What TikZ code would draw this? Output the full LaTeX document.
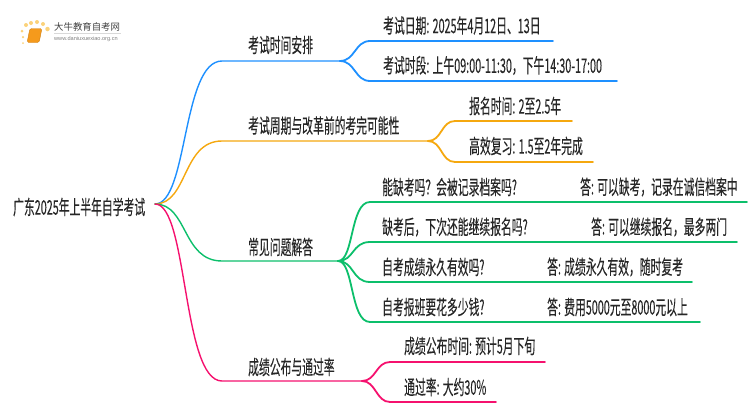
\documentclass[tikz,border=0pt]{standalone}
\usepackage{fontspec}
\setmainfont{Liberation Sans}
\newfontfamily\cjk[FakeStretch=0.54,FakeBold=0.15]{Noto Sans CJK SC}
\newfontfamily\cjklogo{Noto Sans CJK SC}
\definecolor{mapblue}{HTML}{1E90FF}
\definecolor{maporange}{HTML}{F5A80F}
\definecolor{mapgreen}{HTML}{0CBF6B}
\definecolor{mappink}{HTML}{F5116E}
\definecolor{mapbook}{HTML}{F59A1C}
\definecolor{mapdot}{HTML}{FBD27A}
\tikzstyle{topic} = [anchor=west, inner sep=0pt, text=black!85, font=\cjk\fontsize{20}{20}\selectfont]
\tikzstyle{leaf} = [topic]
\tikzstyle{branch} = [line width=1.8pt, line cap=round]
\tikzstyle{spark} = [circle, inner sep=0pt, fill=mapdot]
\begin{document}
\begin{tikzpicture}[x=1pt, y=-1pt]
	\useasboundingbox (0,0) rectangle (750,410);

	% logo
	\node (dota) [spark, minimum size=2pt] at (23,43) {};
	\node (dotb) [spark, minimum size=2.5pt] at (23,37) {};
	\node (dotc) [spark, minimum size=3pt] at (22,31) {};
	\node (dotd) [spark, minimum size=4pt] at (26,25) {};
	\node (dote) [spark, minimum size=4pt] at (31,23) {};
	\node (dotf) [spark, minimum size=4pt] at (37,22) {};
	\node (dotg) [spark, minimum size=4pt] at (43,24) {};
	\node (doth) [spark, minimum size=4.5pt] at (47.5,29) {};
	\node (book) [draw=mapbook!85!black, fill=mapbook, rounded corners=1.5pt, minimum width=12pt, minimum height=14pt, inner sep=0pt, xslant=0.2] at (34.5,35.5) {};
	\node (logoname) [anchor=west, inner sep=0pt, text=black!75, font=\cjklogo\fontsize{9.4}{10}\selectfont] at (54,27) {大牛教育自考网};
	\node (logourl) [anchor=west, inner sep=0pt, text=black!50, font=\fontsize{5.6}{6}\selectfont] at (54,39) {www.daniuxuexiao.org.cn};
	\draw [black!15, line width=0.6pt] (logoname.south west) ++(0,1.5) -- ++(67,0);

	% root
	\node (root) [topic] at (13,207) {广东2025年上半年自学考试};
	\coordinate (hub) at (155,204);

	% first level
	\coordinate (timea) at (222,61);  \coordinate (timeb) at (340,61);
	\coordinate (cyclea) at (222,141); \coordinate (cycleb) at (428,141);
	\coordinate (faqa) at (222,261);  \coordinate (faqb) at (338,261);
	\coordinate (scorea) at (222,381); \coordinate (scoreb) at (362,381);

	\node (time) [topic] at (248,45) {考试时间安排};
	\node (cycle) [topic] at (248,125.5) {考试周期与改革前的考完可能性};
	\node (faq) [topic] at (248,247) {常见问题解答};
	\node (score) [topic] at (248,367) {成绩公布与通过率};

	\draw [branch, line width=1.4pt, mapblue] (hub) .. controls (188,204) and (182,61) .. (timea) -- (timeb);
	\draw [branch, line width=1.4pt, maporange] (hub) .. controls (188,204) and (182,141) .. (cyclea) -- (cycleb);
	\draw [branch, line width=1.4pt, mapgreen] (hub) .. controls (188,204) and (182,261) .. (faqa) -- (faqb);
	\draw [branch, line width=1.4pt, mappink] (hub) .. controls (188,204) and (182,381) .. (scorea) -- (scoreb);

	% time leaves
	\coordinate (datea) at (370,41);  \coordinate (dateb) at (553,41);
	\coordinate (slota) at (370,81);  \coordinate (slotb) at (617,81);
	\node (date) [leaf] at (383,25.5) {考试日期: 2025年4月12日、13日};
	\node (slot) [leaf] at (383,65.5) {考试时段: 上午09:00-11:30，下午14:30-17:00};
	\draw [branch, mapblue] (timeb) .. controls (355,61) and (355,41) .. (datea) -- (dateb);
	\draw [branch, mapblue] (timeb) .. controls (355,61) and (355,81) .. (slota) -- (slotb);

	% cycle leaves
	\coordinate (signa) at (455,121);  \coordinate (signb) at (572,121);
	\coordinate (revisa) at (455,162); \coordinate (revisb) at (593,162);
	\node (sign) [leaf] at (469,106) {报名时间: 2至2.5年};
	\node (revis) [leaf] at (469,146) {高效复习: 1.5至2年完成};
	\draw [branch, maporange] (cycleb) .. controls (442,141) and (441,121) .. (signa) -- (signb);
	\draw [branch, maporange] (cycleb) .. controls (442,141) and (441,162) .. (revisa) -- (revisb);

	% faq leaves
	\coordinate (absenta) at (370,202); \coordinate (absentb) at (747,202);
	\coordinate (againa) at (370,242);  \coordinate (againb) at (737,242);
	\coordinate (valida) at (370,282);  \coordinate (validb) at (692,282);
	\coordinate (feea) at (370,322);    \coordinate (feeb) at (700,322);
	\node (absent) [leaf] at (382,187) {能缺考吗？会被记录档案吗?};
	\node (absentans) [leaf] at (580,187) {答: 可以缺考，记录在诚信档案中};
	\node (again) [leaf] at (382,227) {缺考后，下次还能继续报名吗?};
	\node (againans) [leaf] at (591,227) {答: 可以继续报名，最多两门};
	\node (valid) [leaf] at (382,267) {自考成绩永久有效吗?};
	\node (validans) [leaf] at (547,267) {答: 成绩永久有效，随时复考};
	\node (fee) [leaf] at (382,307) {自考报班要花多少钱?};
	\node (feeans) [leaf] at (547,307) {答: 费用5000元至8000元以上};
	\draw [branch, mapgreen] (faqb) .. controls (354,261) and (350,202) .. (absenta) -- (absentb);
	\draw [branch, mapgreen] (faqb) .. controls (354,261) and (352,242) .. (againa) -- (againb);
	\draw [branch, mapgreen] (faqb) .. controls (354,261) and (352,282) .. (valida) -- (validb);
	\draw [branch, mapgreen] (faqb) .. controls (354,261) and (350,322) .. (feea) -- (feeb);

	% score leaves
	\coordinate (publisha) at (390,362); \coordinate (publishb) at (545,362);
	\coordinate (passa) at (390,402);    \coordinate (passb) at (496,402);
	\node (publish) [leaf] at (404,346) {成绩公布时间: 预计5月下旬};
	\node (pass) [leaf] at (404,387) {通过率: 大约30\%};
	\draw [branch, mappink] (scoreb) .. controls (376,381) and (376,362) .. (publisha) -- (publishb);
	\draw [branch, mappink] (scoreb) .. controls (376,381) and (376,402) .. (passa) -- (passb);

\end{tikzpicture}
\end{document}
